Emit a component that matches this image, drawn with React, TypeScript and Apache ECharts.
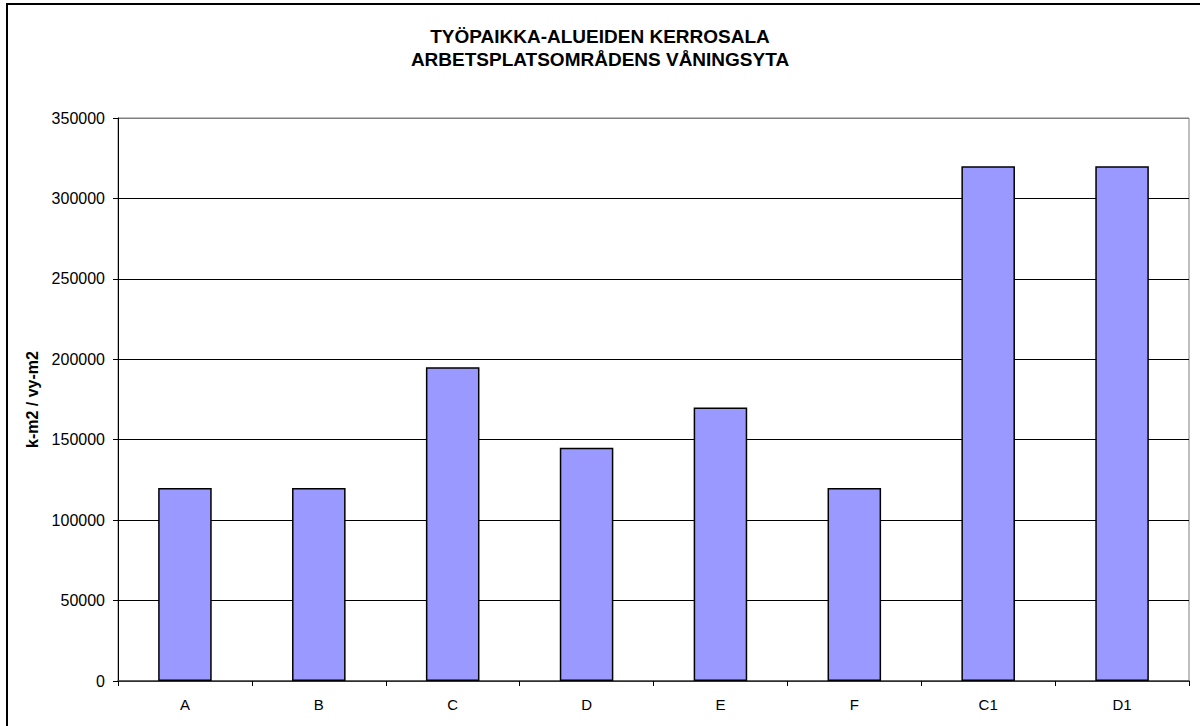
import React, { useEffect, useRef } from "react";
import * as echarts from "echarts";

const titleLines = ["TYÖPAIKKA-ALUEIDEN KERROSALA", "ARBETSPLATSOMRÅDENS VÅNINGSYTA"];
const yAxisName = "k-m2 / vy-m2";
const categories = ["A", "B", "C", "D", "E", "F", "C1", "D1"];
const floorArea = [120000, 120000, 195000, 145000, 170000, 120000, 320000, 320000];
const yMin = 0;
const yMax = 350000;
const yStep = 50000;

const FONT = "'Liberation Sans', Arial, sans-serif";

export default function App() {
  const ref = useRef<HTMLDivElement>(null);

  useEffect(() => {
    document.body.style.margin = "0";
    const chart = echarts.init(ref.current!, null, { renderer: "svg" });
    const lineCount = Math.round((yMax - yMin) / yStep) + 1;
    // top gridline doubles as the gray plot-area frame
    const splitColors = Array.from({ length: lineCount }, (_, i) =>
      i === lineCount - 1 ? "#808080" : "#000000"
    );
    chart.setOption({
      animation: false,
      backgroundColor: "#ffffff",
      textStyle: { fontFamily: FONT },
      title: {
        text: titleLines.join("\n"),
        left: "center",
        top: 20,
        textStyle: {
          fontFamily: FONT,
          fontSize: 19,
          fontWeight: "bold",
          color: "#000",
          lineHeight: 23,
        },
      },
      graphic: [
        {
          type: "rect",
          shape: { x: 7, y: 4, width: 1200, height: 730 },
          style: { fill: "none", stroke: "#000", lineWidth: 2 },
          silent: true,
          z: 100,
        },
      ],
      grid: {
        left: 118,
        top: 118,
        right: 11,
        bottom: 45,
        show: true,
        borderColor: "#808080",
        borderWidth: 1,
      },
      xAxis: {
        type: "category",
        data: categories,
        axisLine: { lineStyle: { color: "#404040", width: 1.5 } },
        axisTick: { show: true, length: 5, lineStyle: { color: "#000" } },
        axisLabel: { fontFamily: FONT, fontSize: 15, color: "#000", margin: 16 },
      },
      yAxis: {
        type: "value",
        min: yMin,
        max: yMax,
        interval: yStep,
        name: yAxisName,
        nameLocation: "middle",
        nameGap: 78,
        nameRotate: 90,
        nameTextStyle: { fontFamily: FONT, fontSize: 16, fontWeight: "bold", color: "#000" },
        axisLine: { show: true, lineStyle: { color: "#000", width: 1 } },
        axisTick: { show: true, length: 5, lineStyle: { color: "#000" } },
        axisLabel: {
          fontFamily: FONT,
          fontSize: 16,
          color: "#000",
          margin: 13,
          formatter: (v: number) => String(v),
        },
        splitLine: { show: true, lineStyle: { color: splitColors, width: 1 } },
      },
      series: [
        {
          type: "bar",
          data: floorArea,
          barWidth: "40%",
          itemStyle: { color: "#9999FF", borderColor: "#000", borderWidth: 1.5 },
        },
      ],
    });
    return () => chart.dispose();
  }, []);

  return <div ref={ref} style={{ width: 1200, height: 726 }} />;
}
